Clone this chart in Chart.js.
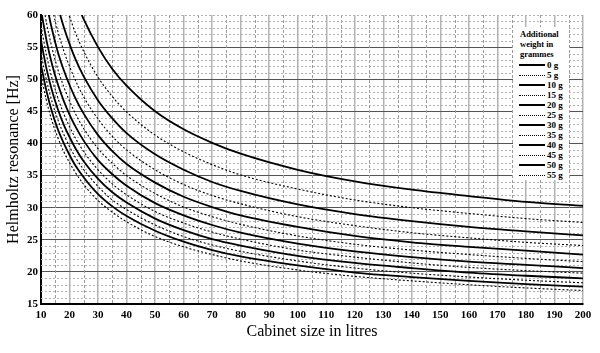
<!DOCTYPE html>
<html>
<head>
<meta charset="utf-8">
<title>Helmholtz resonance vs cabinet size</title>
<script src="https://cdn.jsdelivr.net/npm/chart.js@4"></script>
<style>
    body { margin: 0; background: #fff; }
    #wrap { position: relative; width: 600px; height: 353px; }
    #legend {
        position: absolute; left: 513px; top: 27px; width: 56px; height: 153px;
        background: #fff; color: #000; font-weight: bold;
        font-family: "Liberation Serif", "Times New Roman", serif;
    }
    #legend .head { font-size: 8.5px; line-height: 10px; padding: 2px 0 0 7px; height: 30px; margin-bottom: 1px; }
    #legend .row { position: relative; height: 10px; font-size: 9px; line-height: 10px; }
    #legend .row i { position: absolute; left: 6px; width: 26px; }
    #legend .row span { position: absolute; left: 34px; top: 0; }
</style>
</head>
<body>
<div id="wrap">
    <canvas id="chart" width="600" height="353"></canvas>
    <div id="legend"></div>
</div>
<script>
// cabinet volume (litres) at which the curves were read
const litres = [10, 12, 14, 16, 18, 20, 22, 25, 30, 35, 40, 50, 60, 70, 80, 100, 120, 140, 160, 180, 200];

// resonance (Hz) for each added weight
const hz0g  = [89.3, 82.1, 76.5, 72.0, 68.3, 65.3, 62.6, 59.3, 55.0, 51.6, 49.0, 45.0, 42.2, 40.1, 38.4, 35.9, 34.1, 32.8, 31.8, 30.9, 30.3];
const hz5g  = [81.8, 75.2, 70.0, 66.0, 62.6, 59.8, 57.3, 54.3, 50.3, 47.3, 44.9, 41.3, 38.7, 36.7, 35.1, 32.9, 31.2, 30.0, 29.1, 28.3, 27.7];
const hz10g = [75.9, 69.7, 65.0, 61.2, 58.1, 55.5, 53.2, 50.4, 46.7, 43.9, 41.6, 38.3, 35.9, 34.0, 32.6, 30.5, 29.0, 27.9, 27.0, 26.3, 25.7];
const hz15g = [71.1, 65.3, 60.9, 57.3, 54.4, 52.0, 49.9, 47.2, 43.8, 41.1, 39.0, 35.9, 33.6, 31.9, 30.6, 28.6, 27.2, 26.1, 25.3, 24.6, 24.1];
const hz20g = [67.1, 61.7, 57.5, 54.1, 51.4, 49.1, 47.1, 44.6, 41.3, 38.8, 36.8, 33.9, 31.7, 30.1, 28.8, 27.0, 25.6, 24.6, 23.9, 23.3, 22.7];
const hz25g = [63.7, 58.6, 54.6, 51.4, 48.8, 46.6, 44.7, 42.3, 39.2, 36.9, 35.0, 32.2, 30.1, 28.6, 27.4, 25.6, 24.3, 23.4, 22.7, 22.1, 21.6];
const hz30g = [60.8, 55.9, 52.1, 49.1, 46.6, 44.5, 42.7, 40.4, 37.4, 35.2, 33.4, 30.7, 28.8, 27.3, 26.1, 24.4, 23.2, 22.3, 21.6, 21.1, 20.6];
const hz35g = [58.3, 53.6, 49.9, 47.0, 44.6, 42.6, 40.9, 38.7, 35.9, 33.7, 32.0, 29.4, 27.6, 26.2, 25.1, 23.4, 22.3, 21.4, 20.7, 20.2, 19.8];
const hz40g = [56.0, 51.5, 48.0, 45.2, 42.9, 41.0, 39.3, 37.2, 34.5, 32.4, 30.8, 28.3, 26.5, 25.1, 24.1, 22.5, 21.4, 20.6, 19.9, 19.4, 19.0];
const hz45g = [54.0, 49.7, 46.3, 43.6, 41.4, 39.5, 37.9, 35.9, 33.3, 31.2, 29.7, 27.3, 25.5, 24.2, 23.2, 21.7, 20.6, 19.8, 19.2, 18.7, 18.3];
const hz50g = [52.2, 48.0, 44.7, 42.1, 40.0, 38.2, 36.6, 34.7, 32.1, 30.2, 28.7, 26.4, 24.7, 23.4, 22.4, 21.0, 19.9, 19.2, 18.6, 18.1, 17.7];
const hz55g = [50.6, 46.5, 43.3, 40.8, 38.7, 37.0, 35.5, 33.6, 31.1, 29.3, 27.8, 25.5, 23.9, 22.7, 21.7, 20.3, 19.3, 18.6, 18.0, 17.5, 17.1];

const weights = ["0 g", "5 g", "10 g", "15 g", "20 g", "25 g", "30 g", "35 g", "40 g", "45 g", "50 g", "55 g"];
const seriesValues = [hz0g, hz5g, hz10g, hz15g, hz20g, hz25g, hz30g, hz35g, hz40g, hz45g, hz50g, hz55g];

const serif = '"Liberation Serif", "Times New Roman", serif';

// every other curve (5 g, 15 g, ...) is dotted
function isDotted(i) {
    return i % 2 === 1;
}

// dashed/dotted minor grid between the major lines
const minorGrid = {
    id: "minorGrid",
    beforeDatasetsDraw(chart) {
        const { ctx, chartArea: a, scales: { x, y } } = chart;
        ctx.save();
        ctx.lineWidth = 1;
        ctx.strokeStyle = "#9c9c9c";
        ctx.setLineDash([3, 2]);
        for (let v = 15; v < 200; v += 10) {
            const px = Math.round(x.getPixelForValue(v)) + 0.5;
            ctx.beginPath();
            ctx.moveTo(px, a.top);
            ctx.lineTo(px, a.bottom);
            ctx.stroke();
        }
        ctx.strokeStyle = "#b2b2b2";
        ctx.setLineDash([2, 2]);
        for (let v = 16; v <= 60; v++) {
            if (v % 5 === 0 && v !== 60) continue;
            const py = Math.round(y.getPixelForValue(v)) + 0.5;
            ctx.beginPath();
            ctx.moveTo(a.left, py);
            ctx.lineTo(a.right, py);
            ctx.stroke();
        }
        ctx.restore();
    }
};

const datasets = weights.map(function (w, i) {
    return {
        label: w,
        data: litres.map(function (v, j) { return { x: v, y: seriesValues[i][j] }; }),
        borderColor: "#000",
        borderWidth: isDotted(i) ? 1.1 : 1.8,
        borderDash: isDotted(i) ? [2, 2] : [],
        pointRadius: 0,
        fill: false,
        cubicInterpolationMode: "monotone"
    };
});

new Chart(document.getElementById("chart"), {
    type: "line",
    data: { datasets: datasets },
    options: {
        responsive: false,
        animation: false,
        layout: { padding: { left: 0, top: 15, right: 17, bottom: 8 } },
        plugins: {
            legend: { display: false },
            tooltip: { enabled: false }
        },
        scales: {
            x: {
                type: "linear",
                min: 10,
                max: 200,
                afterFit: function (scale) { scale.height = 41; },
                ticks: {
                    stepSize: 10,
                    autoSkip: false,
                    maxRotation: 0,
                    padding: 5,
                    color: "#000",
                    font: { family: serif, size: 11, weight: "bold" }
                },
                grid: { color: "#b4b4b4", lineWidth: 1.5, drawTicks: false },
                border: { color: "#000", width: 2 },
                title: {
                    display: true,
                    text: "Cabinet size in litres",
                    color: "#000",
                    font: { family: serif, size: 16 },
                    padding: { top: 0, bottom: 4 }
                }
            },
            y: {
                min: 15,
                max: 60,
                afterFit: function (scale) { scale.width = 41; },
                ticks: {
                    stepSize: 5,
                    padding: 3,
                    color: "#000",
                    font: { family: serif, size: 11, weight: "bold" }
                },
                grid: {
                    color: function (c) { return c.tick && c.tick.value === 60 ? "rgba(0,0,0,0)" : "#555"; },
                    lineWidth: 1,
                    drawTicks: false
                },
                border: { color: "#000", width: 2 },
                title: {
                    display: true,
                    text: "Helmholtz resonance [Hz]",
                    color: "#000",
                    font: { family: serif, size: 16 },
                    padding: { top: 4, bottom: 0 }
                }
            }
        }
    },
    plugins: [minorGrid]
});

// legend box in the top right corner
const legend = document.getElementById("legend");
let html = '<div class="head">Additional<br>weight in<br>grammes</div>';
weights.forEach(function (w, i) {
    const line = isDotted(i)
        ? '<i style="top:5px;border-top:1px dotted #000"></i>'
        : '<i style="top:4px;border-top:2px solid #000"></i>';
    html += '<div class="row">' + line + '<span>' + w + '</span></div>';
});
legend.innerHTML = html;
</script>
</body>
</html>
